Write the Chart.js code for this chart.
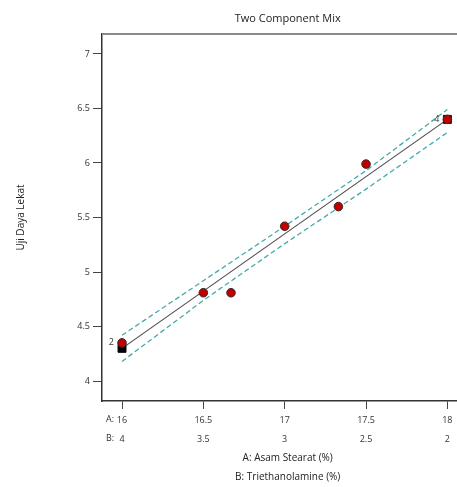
<!DOCTYPE html>
<html>
<head>
<meta charset="utf-8">
<script src="https://cdn.jsdelivr.net/npm/chart.js@4"></script>
<style>
    html, body { margin: 0; padding: 0; background: #fff; overflow: hidden; }
    .wrap { width: 480px; height: 487px; position: relative; }
</style>
</head>
<body>
<div class="wrap"><canvas id="mixChart"></canvas></div>
<script>
// ===== DATA =====
const xTicks = [16, 16.5, 17, 17.5, 18];          // A: Asam Stearat (%)
const bTickLabels = ['4', '3.5', '3', '2.5', '2']; // B: Triethanolamine (%)
const yTicks = [4, 4.5, 5, 5.5, 6, 6.5, 7];

const obsX = [16, 16.5, 16.67, 17, 17.33, 17.5, 18];
const obsY = [4.35, 4.81, 4.81, 5.42, 5.60, 5.99, 6.40];

const fitX = [16, 18];
const fitY = [4.30, 6.40];

const bandX = [16, 16.5, 17, 17.5, 18];
const bandUpper = [4.42, 4.92, 5.42, 5.93, 6.49];
const bandLower = [4.18, 4.74, 5.26, 5.76, 6.28];

const designX = [16, 18];
const designY = [4.30, 6.40];
const repText = ['2', '4'];
const repY = [4.35, 6.40];

const FONT = '"Open Sans", "Noto Sans", sans-serif';
const pts = (xs, ys) => xs.map((x, i) => ({ x: x, y: ys[i] }));

// ===== EXTRA DRAWING: frame top, A:/B: prefixes, replicate counts =====
const extras = {
    id: 'extras',
    afterDraw(chart) {
        const { ctx, chartArea, scales } = chart;
        ctx.save();
        // top frame line
        ctx.strokeStyle = '#8a8a8a';
        ctx.lineWidth = 2;
        ctx.beginPath();
        ctx.moveTo(chartArea.left, chartArea.top);
        ctx.lineTo(chartArea.right + 10, chartArea.top);
        ctx.stroke();

        // row prefixes under the x axis
        ctx.fillStyle = '#333';
        ctx.font = '9px ' + FONT;
        ctx.textAlign = 'center';
        ctx.textBaseline = 'middle';
        const x0 = scales.x.getPixelForValue(xTicks[0]) - 12;
        ctx.fillText('A:', x0, chartArea.bottom + 18);
        ctx.fillText('B:', x0, chartArea.bottom + 37);

        // replicate counts beside design points
        ctx.textAlign = 'right';
        repText.forEach((t, i) => {
            const px = scales.x.getPixelForValue(designX[i]) - 8;
            const py = scales.y.getPixelForValue(repY[i]);
            ctx.fillText(t, px, py);
        });
        ctx.restore();
    }
};

// ===== CHART =====
new Chart(document.getElementById('mixChart'), {
    type: 'scatter',
    data: {
        datasets: [
            {
                label: 'Observed',
                data: pts(obsX, obsY),
                backgroundColor: '#c00000',
                borderColor: '#3a2a2a',
                borderWidth: 1,
                pointRadius: 4.3,
            },
            {
                label: 'Design',
                data: pts(designX, designY),
                backgroundColor: '#000',
                borderColor: '#000',
                pointStyle: 'rect',
                pointRadius: 5.6,
            },
            {
                label: 'Fit',
                data: pts(fitX, fitY),
                showLine: true,
                borderColor: '#4a4a4a',
                borderWidth: 1.1,
                pointRadius: 0,
            },
            {
                label: 'Upper',
                data: pts(bandX, bandUpper),
                showLine: true,
                borderColor: '#46a9ab',
                borderWidth: 1.3,
                borderDash: [5, 3],
                pointRadius: 0,
            },
            {
                label: 'Lower',
                data: pts(bandX, bandLower),
                showLine: true,
                borderColor: '#46a9ab',
                borderWidth: 1.3,
                borderDash: [5, 3],
                pointRadius: 0,
            },
        ]
    },
    options: {
        responsive: true,
        maintainAspectRatio: false,
        animation: false,
        layout: { padding: { left: 0, right: 6, top: 0, bottom: 0 } },
        plugins: {
            legend: { display: false },
            tooltip: { enabled: false },
            title: {
                display: true,
                text: 'Two Component Mix',
                fullSize: false,
                color: '#222',
                font: { family: FONT, size: 11, weight: 'normal', lineHeight: 1.2 },
                padding: { top: 12, bottom: 8.8 },
            }
        },
        scales: {
            x: {
                type: 'linear',
                min: 15.877,
                max: 18.16,
                afterBuildTicks: s => { s.ticks = xTicks.map(v => ({ value: v })); },
                afterFit: s => { s.height = 86; },
                grid: { display: true, drawOnChartArea: false, tickLength: 8, color: '#444' },
                border: { color: '#333', width: 1.5 },
                ticks: {
                    color: '#333',
                    padding: 2,
                    maxRotation: 0,
                    font: { family: FONT, size: 9, lineHeight: 2.11 },
                    callback: (v, i) => [String(xTicks[i]), bTickLabels[i]],
                },
                title: {
                    display: true,
                    text: ['A: Asam Stearat (%)', 'B: Triethanolamine (%)'],
                    color: '#222',
                    font: { family: FONT, size: 10, lineHeight: 1.9 },
                    padding: { top: 0, bottom: 0 },
                }
            },
            y: {
                type: 'linear',
                min: 3.817,
                max: 7.183,
                afterBuildTicks: s => { s.ticks = yTicks.map(v => ({ value: v })); },
                afterFit: s => { s.width = 102; },
                grid: { display: true, drawOnChartArea: false, tickLength: 9, color: '#444' },
                border: { color: '#333', width: 1.5 },
                ticks: {
                    color: '#333',
                    padding: 3,
                    font: { family: FONT, size: 9 },
                    callback: v => String(v),
                },
                title: {
                    display: true,
                    text: 'Uji Daya Lekat',
                    color: '#222',
                    font: { family: FONT, size: 10 },
                    padding: { top: 15, bottom: 0 },
                }
            }
        }
    },
    plugins: [extras]
});
</script>
</body>
</html>
